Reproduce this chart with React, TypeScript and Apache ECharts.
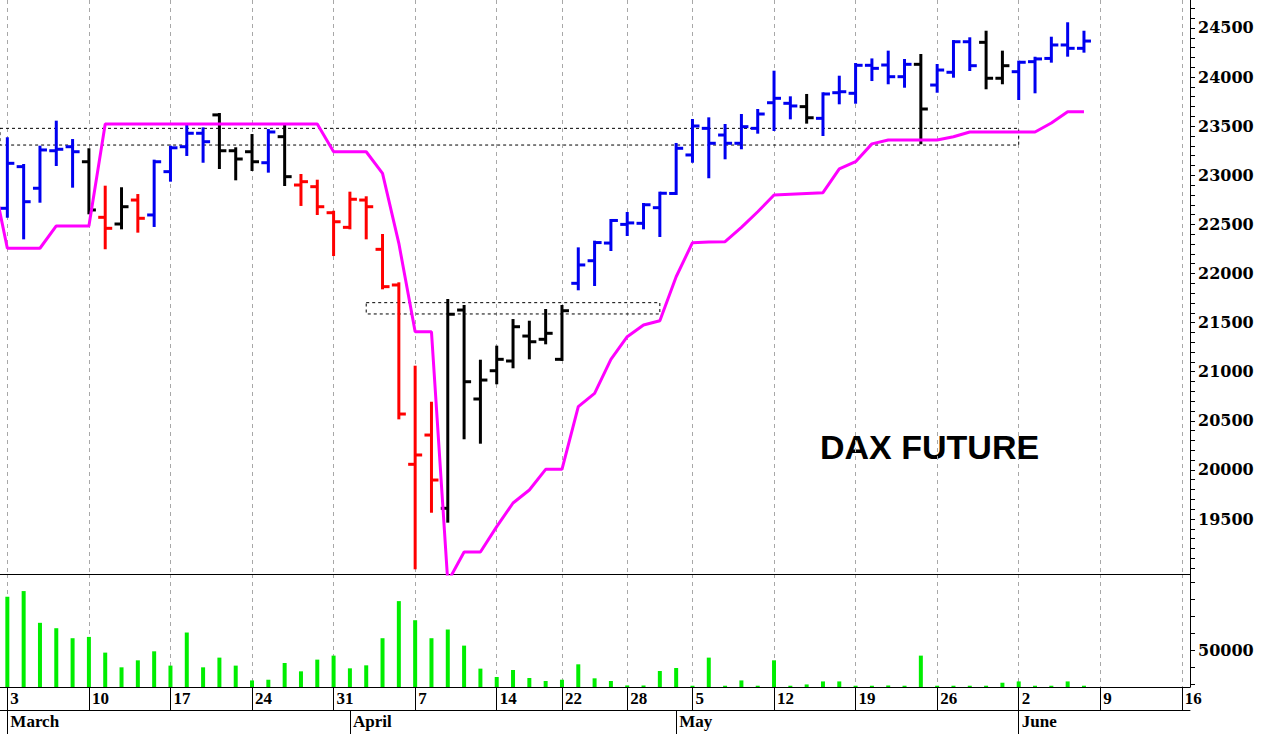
import React, { useEffect, useRef } from "react";
import * as echarts from "echarts";

// ---------------- DATA ----------------
const dates = [
  "2025-03-03", "2025-03-04", "2025-03-05", "2025-03-06", "2025-03-07",
  "2025-03-10", "2025-03-11", "2025-03-12", "2025-03-13", "2025-03-14",
  "2025-03-17", "2025-03-18", "2025-03-19", "2025-03-20", "2025-03-21",
  "2025-03-24", "2025-03-25", "2025-03-26", "2025-03-27", "2025-03-28",
  "2025-03-31", "2025-04-01", "2025-04-02", "2025-04-03", "2025-04-04",
  "2025-04-07", "2025-04-08", "2025-04-09", "2025-04-10", "2025-04-11",
  "2025-04-14", "2025-04-15", "2025-04-16", "2025-04-17",
  "2025-04-22", "2025-04-23", "2025-04-24", "2025-04-25",
  "2025-04-28", "2025-04-29", "2025-04-30", "2025-05-02",
  "2025-05-05", "2025-05-06", "2025-05-07", "2025-05-08", "2025-05-09",
  "2025-05-12", "2025-05-13", "2025-05-14", "2025-05-15", "2025-05-16",
  "2025-05-19", "2025-05-20", "2025-05-21", "2025-05-22", "2025-05-23",
  "2025-05-26", "2025-05-27", "2025-05-28", "2025-05-29", "2025-05-30",
  "2025-06-02", "2025-06-03", "2025-06-04", "2025-06-05", "2025-06-06",
];
const futureDates = ["2025-06-09", "2025-06-10", "2025-06-11", "2025-06-12", "2025-06-13", "2025-06-16"];

const opens = [
  22664, 23088, 22868, 23250, 23291, 23138, 22572, 22504, 22748, 22596,
  23037, 23291, 23428, 23615, 23250, 23240, 23128, 23393, 22901, 22884,
  22619, 22470, 22748, 22246, 21883, 20057, 20355, 19609, 21628, 20722,
  21010, 21109, 21363, 21330, 21126, 21900, 22130, 22310, 22500, 22511,
  22670, 22815, 23207, 23478, 23410, 23326, 23478, 23739, 23733, 23699,
  23580, 23841, 23835, 24120, 24123, 24004, 24130, 23919, 24049, 24360,
  24354, 23988, 24055, 24157, 24190, 24327, 24293,
];
const highs = [
  23377, 23105, 23291, 23546, 23359, 23265, 22884, 22868, 22799, 23149,
  23291, 23502, 23478, 23624, 23275, 23410, 23461, 23502, 23003, 22945,
  22629, 22823, 22776, 22392, 21900, 21051, 20684, 21730, 21669, 21112,
  21255, 21526, 21509, 21628, 21669, 22256, 22324, 22545, 22616, 22708,
  22823, 23319, 23563, 23580, 23512, 23614, 23665, 24055, 23794, 23818,
  23835, 24004, 24133, 24180, 24259, 24174, 24225, 24123, 24367, 24395,
  24462, 24259, 24157, 24197, 24401, 24548, 24462,
];
const lows = [
  22578, 22358, 22731, 23105, 22884, 22613, 22257, 22460, 22426, 22484,
  22945, 23207, 23138, 23074, 22959, 23054, 23037, 22901, 22698, 22606,
  22188, 22460, 22358, 21849, 20525, 18998, 19574, 19473, 20322, 20277,
  20882, 21045, 21136, 21289, 21119, 21839, 21883, 22239, 22392, 22460,
  22382, 22810, 23138, 22980, 23173, 23275, 23434, 23461, 23580, 23536,
  23410, 23733, 23739, 23970, 23937, 23902, 23326, 23851, 24004, 24072,
  23886, 23937, 23777, 23845, 24157, 24218, 24259,
];
const closes = [
  23122, 22731, 23258, 23265, 23240, 22647, 22460, 22680, 22562, 23138,
  23280, 23428, 23342, 23250, 23166, 23138, 23441, 22986, 22935, 22680,
  22527, 22756, 22680, 21866, 20569, 20152, 19897, 21585, 20898, 20915,
  21126, 21458, 21305, 21391, 21621, 22087, 22315, 22540, 22515, 22700,
  22817, 23275, 23502, 23326, 23326, 23495, 23624, 23784, 23706, 23586,
  23828, 23851, 24120, 24089, 24004, 24130, 23675, 24072, 24360, 24116,
  23988, 24116, 24151, 24185, 24327, 24293, 24367,
];
// b = blue, r = red, k = black
const barColors = [
  "b", "b", "b", "b", "b", "k", "r", "k", "r", "b",
  "b", "b", "b", "k", "k", "k", "b", "k", "r", "r",
  "r", "r", "r", "r", "r", "r", "r", "k", "k", "k",
  "k", "k", "k", "k", "k", "b", "b", "b", "b", "b",
  "b", "b", "b", "b", "b", "b", "b", "b", "b", "k",
  "b", "b", "b", "b", "b", "b", "k", "b", "b", "b",
  "k", "k", "b", "b", "b", "b", "b",
];
const stopBefore = 23060;
const stops = [
  22257, 22257, 22257, 22484, 22484, 22484, 23522, 23522, 23522, 23522,
  23522, 23522, 23522, 23522, 23522, 23522, 23522, 23522, 23522, 23522,
  23240, 23240, 23240, 23020, 22307, 21407, 21407, 18859, 19164, 19164,
  19422, 19663, 19795, 20006, 20006, 20644, 20780, 21126, 21356, 21476,
  21519, 21967, 22314, 22320, 22324, 22469, 22629, 22799, 22807, 22815,
  22823, 23065, 23138, 23320, 23359, 23359, 23359, 23359, 23393, 23441,
  23441, 23441, 23441, 23441, 23532, 23648, 23648,
];
const volumes = [
  81700, 85050, 66270, 63080, 57160, 57930, 48640, 39940, 44080, 49410,
  40950, 60530, 39940, 45680, 40950, 32190, 32600, 42490, 37570, 44500,
  46860, 39350, 41120, 57160, 79110, 67810, 57160, 62310, 52780, 39170,
  34200, 38340, 33610, 31840, 32600, 41720, 33430, 31840, 29230, 29200,
  37750, 39530, 29050, 45680, 29050, 32190, 29050, 44080, 29050, 29820,
  31600, 31600, 29050, 29050, 29200, 29050, 46860, 29050, 29050, 29050,
  29050, 30830, 31600, 29050, 29050, 31600, 29050,
];
// dotted resistance zones: [from index, to index, top, bottom]
const upperZone = [-0.7, 62, 23478, 23308];
const lowerZone = [22, 40, 21703, 21588];

const monthNames = ["January", "February", "March", "April", "May", "June", "July", "August", "September", "October", "November", "December"];
const priceLabels = [19500, 20000, 20500, 21000, 21500, 22000, 22500, 23000, 23500, 24000, 24500];
const volumeLabels = [50000];

// ---------------- DERIVED ----------------
const allDates = dates.concat(futureDates);
const parsed = allDates.map((d) => new Date(d + "T00:00:00Z"));
const weekStarts: number[] = [];
const monthStarts: number[] = [];
parsed.forEach((d, i) => {
  if (i === 0 || d.getUTCDay() < parsed[i - 1].getUTCDay()) weekStarts.push(i);
  if (i === 0 || d.getUTCMonth() !== parsed[i - 1].getUTCMonth()) monthStarts.push(i);
});
const priceMin = 18940;
const priceMax = 24785;
const priceTicks: number[] = [];
for (let v = 19000; v <= 24700; v += 100) priceTicks.push(v);
const volMin = 28300;
const volMax = 95150;
const volTicks = [30000, 40000, 50000, 60000, 70000, 80000, 90000];

const X_MIN = -0.45;
const X_MAX = 72.5;

const COLORS: Record<string, string> = { b: "#0000f0", r: "#ff0000", k: "#000000" };
const LABEL_FONT = "'Liberation Serif', 'Times New Roman', serif";
const AXIS_FONT = "'DejaVu Serif', serif";

export default function App() {
  const ref = useRef<HTMLDivElement>(null);
  useEffect(() => {
    if (!ref.current) return;
    const chart = echarts.init(ref.current, undefined, { renderer: "svg" });
    const gridLineStyle = { color: "#a8a8a8", width: 1, type: [4, 4] as any };
    const option: any = {
      animation: false,
      backgroundColor: "#ffffff",
      grid: [
        { left: 0, right: 72, top: 0, height: 574 },
        { left: 0, right: 72, top: 574, height: 113 },
      ],
      xAxis: [
        {
          gridIndex: 0, type: "value", min: X_MIN, max: X_MAX,
          axisLine: { show: true, onZero: false, lineStyle: { color: "#000", width: 1 } },
          axisTick: { show: false, customValues: weekStarts },
          axisLabel: { show: false, customValues: weekStarts },
          splitLine: { show: true, lineStyle: gridLineStyle },
        },
        {
          gridIndex: 1, type: "value", min: X_MIN, max: X_MAX, position: "bottom",
          axisLine: { show: true, onZero: false, lineStyle: { color: "#000", width: 1 } },
          axisTick: { show: true, inside: false, length: 23, customValues: weekStarts, lineStyle: { color: "#000", width: 1 } },
          axisLabel: {
            show: true, customValues: weekStarts, align: "left", margin: 3, padding: [0, 0, 0, 3],
            color: "#000", fontFamily: LABEL_FONT, fontWeight: "bold", fontSize: 17,
            formatter: (v: number) => String(parsed[Math.round(v)].getUTCDate()),
          },
          splitLine: { show: true, lineStyle: gridLineStyle },
        },
        {
          gridIndex: 1, type: "value", min: X_MIN, max: X_MAX, position: "bottom", offset: 23,
          axisLine: { show: true, onZero: false, lineStyle: { color: "#000", width: 1 } },
          axisTick: { show: true, inside: false, length: 24, customValues: monthStarts, lineStyle: { color: "#000", width: 1 } },
          axisLabel: {
            show: true, customValues: monthStarts, align: "left", margin: 3, padding: [0, 0, 0, 3],
            color: "#000", fontFamily: LABEL_FONT, fontWeight: "bold", fontSize: 17,
            formatter: (v: number) => monthNames[parsed[Math.round(v)].getUTCMonth()],
          },
          splitLine: { show: false },
        },
      ],
      yAxis: [
        {
          gridIndex: 0, type: "value", position: "right", min: priceMin, max: priceMax,
          axisLine: { show: true, onZero: false, lineStyle: { color: "#000", width: 1 } },
          axisTick: { show: true, inside: false, length: 5, customValues: priceTicks, lineStyle: { color: "#000", width: 1 } },
          axisLabel: {
            show: true, customValues: priceLabels, margin: 8, color: "#000",
            fontFamily: AXIS_FONT, fontWeight: "bold", fontSize: 16,
            formatter: (v: number) => String(v),
          },
          splitLine: { show: false },
        },
        {
          gridIndex: 1, type: "value", position: "right", min: volMin, max: volMax,
          axisLine: { show: true, onZero: false, lineStyle: { color: "#000", width: 1 } },
          axisTick: { show: true, inside: false, length: 5, customValues: volTicks, lineStyle: { color: "#000", width: 1 } },
          axisLabel: {
            show: true, customValues: volumeLabels, margin: 8, color: "#000",
            fontFamily: AXIS_FONT, fontWeight: "bold", fontSize: 16,
            formatter: (v: number) => String(v),
          },
          splitLine: { show: false },
        },
      ],
      series: [
        {
          type: "custom",
          name: "DAX",
          xAxisIndex: 0, yAxisIndex: 0,
          data: dates.map((_, i) => [i, opens[i], highs[i], lows[i], closes[i]]),
          encode: { x: 0, y: [1, 2, 3, 4] },
          renderItem: (params: any, api: any) => {
            const x = api.value(0);
            const o = api.coord([x, api.value(1)]);
            const h = api.coord([x, api.value(2)]);
            const l = api.coord([x, api.value(3)]);
            const c = api.coord([x, api.value(4)]);
            const color = COLORS[barColors[params.dataIndex]];
            const style = { stroke: color, lineWidth: 3, lineCap: "butt" };
            return {
              type: "group",
              children: [
                { type: "line", shape: { x1: h[0], y1: h[1] - 1, x2: l[0], y2: l[1] + 1 }, style },
                { type: "line", shape: { x1: o[0] - 7, y1: o[1], x2: o[0], y2: o[1] }, style },
                { type: "line", shape: { x1: c[0], y1: c[1], x2: c[0] + 7, y2: c[1] }, style },
              ],
            };
          },
          z: 3,
        },
        {
          type: "line",
          name: "Stop",
          xAxisIndex: 0, yAxisIndex: 0,
          data: [[-1, stopBefore]].concat(stops.map((s, i) => [i, s])),
          symbol: "none",
          clip: true,
          lineStyle: { color: "#ff00ff", width: 3 },
          itemStyle: { color: "#ff00ff" },
          z: 4,
          markArea: {
            silent: true,
            itemStyle: { color: "rgba(0,0,0,0)", borderColor: "#000", borderWidth: 1, borderType: [3, 3] },
            data: [
              [{ xAxis: upperZone[0], yAxis: upperZone[2] }, { xAxis: upperZone[1], yAxis: upperZone[3] }],
              [{ xAxis: lowerZone[0], yAxis: lowerZone[2] }, { xAxis: lowerZone[1], yAxis: lowerZone[3] }],
            ],
          },
        },
        {
          type: "bar",
          name: "Volume",
          xAxisIndex: 1, yAxisIndex: 1,
          data: volumes.map((v, i) => [i, v]),
          barWidth: 4,
          itemStyle: { color: "#00ee00" },
        },
      ],
      graphic: [
        {
          type: "text",
          left: 820,
          top: 430,
          style: {
            text: "DAX FUTURE",
            fill: "#000",
            font: "bold 34px 'Liberation Sans', Arial, sans-serif",
          },
        },
      ],
    };
    chart.setOption(option);
    return () => chart.dispose();
  }, []);
  return (
    <div
      ref={ref}
      style={{ position: "absolute", left: 0, top: 0, width: 1262, height: 734, background: "#fff" }}
    />
  );
}
